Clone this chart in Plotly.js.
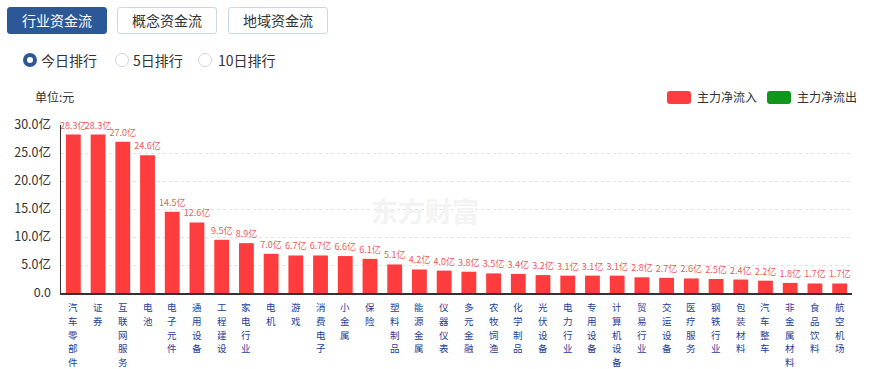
<!DOCTYPE html>
<html>
<head>
<meta charset="utf-8">
<script src="https://cdn.plot.ly/plotly-3.0.1.min.js"></script>
<style>
  html, body { margin:0; padding:0; background:#fff; width:874px; height:369px; overflow:hidden;
    font-family:"Noto Sans CJK SC","Noto Sans",sans-serif; }
  #chart { position:absolute; left:0; top:0; width:874px; height:369px; }
  .btn { position:absolute; top:7px; height:27px; width:100px; box-sizing:border-box; border:1px solid #c9d6e4;
    border-radius:3px; font-size:14px; line-height:25px; text-align:center; color:#333; background:#fff; }
  .btn.on { background:#2d5897; border-color:#2d5897; color:#fff; }
  .radio { position:absolute; top:53px; width:14px; height:14px; box-sizing:border-box; border-radius:50%;
    border:1px solid #cfd6df; background:#fff; }
  .radio.on { border:4px solid #2d5897; }
  .rlab { position:absolute; top:51px; font-size:14px; line-height:18px; color:#333; }
  .unit { position:absolute; left:35px; top:89px; font-size:12px; line-height:16px; color:#333; }
  .lg { position:absolute; top:91px; width:24px; height:13px; border-radius:3px; }
  .lgt { position:absolute; top:89px; font-size:12px; line-height:16px; color:#333; }
</style>
</head>
<body>
<div id="chart"></div>
<div class="btn on" style="left:7px;">行业资金流</div>
<div class="btn" style="left:117px;">概念资金流</div>
<div class="btn" style="left:228px;">地域资金流</div>
<div class="radio on" style="left:23px;"></div><div class="rlab" style="left:41px;">今日排行</div>
<div class="radio" style="left:115px;"></div><div class="rlab" style="left:133px;">5日排行</div>
<div class="radio" style="left:198px;"></div><div class="rlab" style="left:218px;">10日排行</div>
<div class="unit">单位:元</div>
<div class="lg" style="left:667px;background:#ff3d3f;"></div><div class="lgt" style="left:697px;">主力净流入</div>
<div class="lg" style="left:767px;background:#0e971a;"></div><div class="lgt" style="left:797px;">主力净流出</div>
<script>
const categories = ["汽车零部件","证券","互联网服务","电池","电子元件","通用设备","工程建设","家电行业",
  "电机","游戏","消费电子","小金属","保险","塑料制品","能源金属","仪器仪表","多元金融","农牧饲渔",
  "化学制品","光伏设备","电力行业","专用设备","计算机设备","贸易行业","交运设备","医疗服务","钢铁行业",
  "包装材料","汽车整车","非金属材料","食品饮料","航空机场"];
const netInflow = [28.3,28.3,27.0,24.6,14.5,12.6,9.5,8.9,7.0,6.7,6.7,6.6,6.1,5.1,4.2,4.0,3.8,3.5,
  3.4,3.2,3.1,3.1,3.1,2.8,2.7,2.6,2.5,2.4,2.2,1.8,1.7,1.7];
const yTickVals = [0,5,10,15,20,25,30];
const yTickText = ["0.0","5.0亿","10.0亿","15.0亿","20.0亿","25.0亿","30.0亿"];

const trace = {
  type: "bar",
  x: categories,
  y: netInflow,
  marker: { color: "#ff3d3f" },
  width: 0.6,
  text: netInflow.map(v => v.toFixed(1) + "亿"),
  textposition: "outside",
  constraintext: "none",
  cliponaxis: false,
  textfont: { color: "#ee5a5a", size: 9, family: "Noto Sans CJK SC" },
  hoverinfo: "none",
  showlegend: false
};

// vertical category labels: one character per line, placed under each category
const labelAnnotations = [];
categories.forEach(cat => {
  cat.split("").forEach((ch, j) => {
    labelAnnotations.push({
      x: cat, xref: "x", y: 0, yref: "paper", yanchor: "top",
      yshift: -7 - j * 13.8, text: ch, showarrow: false,
      borderpad: 0, borderwidth: 0,
      font: { size: 9.5, color: "#24409a", family: "Noto Sans CJK SC" }
    });
  });
});

const layout = {
  width: 874, height: 369,
  margin: { l: 61, r: 22, t: 125, b: 76 },
  paper_bgcolor: "rgba(0,0,0,0)", plot_bgcolor: "rgba(0,0,0,0)",
  font: { family: "Noto Sans CJK SC, Noto Sans, sans-serif", color: "#333" },
  xaxis: {
    type: "category",
    showticklabels: false,
    showline: true, linecolor: "#333", linewidth: 1.5,
    ticks: "", showgrid: false, zeroline: false,
    range: [-0.5, categories.length - 0.5],
    automargin: false
  },
  yaxis: {
    range: [0, 30],
    tickvals: yTickVals, ticktext: yTickText,
    tickfont: { size: 12.5, color: "#333" },
    ticklabelstandoff: 6,
    showline: true, linecolor: "#333", linewidth: 1.5,
    showgrid: true, gridcolor: "#e3e3e3", griddash: "dot", gridwidth: 1,
    zeroline: false, ticks: "",
    automargin: false
  },
  annotations: [
    { xref: "paper", yref: "paper", x: 0.46, y: 0.49, text: "<b>东方财富</b>", showarrow: false,
      font: { size: 27, color: "#f3f3f3", family: "Noto Sans CJK SC" } }
  ].concat(labelAnnotations)
};

Plotly.newPlot("chart", [trace], layout, { staticPlot: true, displayModeBar: false });
</script>
</body>
</html>
